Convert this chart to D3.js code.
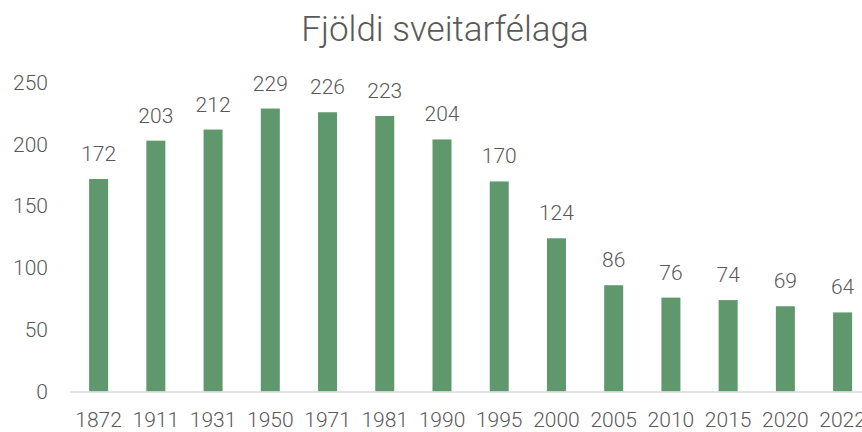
<!DOCTYPE html>
<html>
<head>
<meta charset="utf-8">
<script src="https://cdn.jsdelivr.net/npm/d3@7"></script>
<style>
  body { margin: 0; background: #fff; }
  text { font-family: Roboto, "Open Sans", sans-serif; fill: #595959; font-weight: 300; }
</style>
</head>
<body>
<svg id="chart" width="862" height="432"></svg>
<script>
// data
var years = ["1872", "1911", "1931", "1950", "1971", "1981", "1990", "1995", "2000", "2005", "2010", "2015", "2020", "2022"]
var counts = [172, 203, 212, 229, 226, 223, 204, 170, 124, 86, 76, 74, 69, 64]
var yTicks = [0, 50, 100, 150, 200, 250]

var dims = { width: 862, height: 432, left: 70, top: 82.6, baseline: 391.5 }

var svg = d3.select("#chart")

var xScale = d3.scaleBand()
        .domain(years)
        .range([dims.left, dims.left + 57.23 * years.length])
        .paddingInner(0.668)
        .paddingOuter(0.334)

var yScale = d3.scaleLinear()
        .domain([0, 250])
        .range([dims.baseline, dims.top])

// title
svg.append("text")
        .attr("x", 445)
        .attr("y", 41)
        .attr("text-anchor", "middle")
        .style("font-size", "35px")
        .text("Fjöldi sveitarfélaga")

// y axis labels
var yAxis = svg.append("g")
        .attr("transform", "translate(" + (dims.left - 22) + ",0)")
        .call(d3.axisLeft(yScale).tickValues(yTicks).tickSize(0).tickPadding(0))
yAxis.select(".domain").remove()
yAxis.selectAll("text")
        .style("font-size", "21px")
        .attr("fill", null)

// bars
svg.selectAll("rect.bar")
        .data(counts)
        .enter()
        .append("rect")
        .attr("class", "bar")
        .attr("x", (d, i) => xScale(years[i]))
        .attr("y", d => yScale(d))
        .attr("width", xScale.bandwidth())
        .attr("height", d => yScale(0) - yScale(d))
        .attr("fill", "#5f986d")

// baseline
var xAxis = svg.append("g")
        .attr("transform", "translate(0," + dims.baseline + ")")
        .call(d3.axisBottom(xScale).tickSize(0).tickPadding(21))
xAxis.select(".domain").attr("stroke", "#d9d9d9").attr("stroke-width", 1.5)
xAxis.selectAll("text")
        .style("font-size", "21px")
        .attr("fill", null)

// data labels
svg.selectAll("text.lbl")
        .data(counts)
        .enter()
        .append("text")
        .attr("class", "lbl")
        .attr("x", (d, i) => xScale(years[i]) + xScale.bandwidth() / 2)
        .attr("y", d => yScale(d) - 18)
        .attr("text-anchor", "middle")
        .style("font-size", "21px")
        .text(d => d)
</script>
</body>
</html>
